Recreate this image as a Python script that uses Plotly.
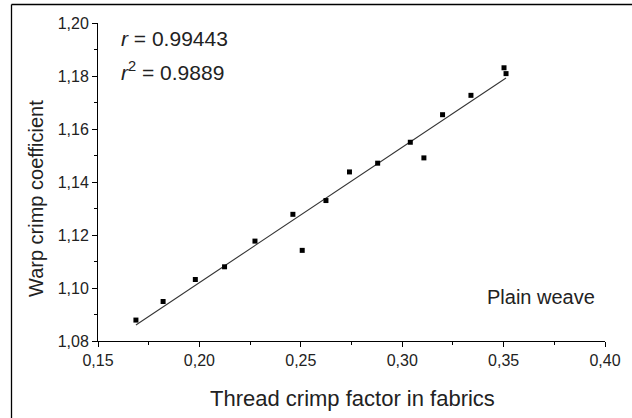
import numpy as np
import plotly.graph_objects as go

# Data
crimp_factor = [0.1687, 0.1821, 0.1980, 0.2124, 0.2274, 0.2461, 0.2507, 0.2624,
                0.2740, 0.2879, 0.3040, 0.3107, 0.3199, 0.3339, 0.3502, 0.3512]
warp_crimp = [1.0879, 1.0949, 1.1032, 1.1080, 1.1177, 1.1278, 1.1142, 1.1330,
              1.1438, 1.1471, 1.1550, 1.1491, 1.1654, 1.1727, 1.1831, 1.1809]
r_text = "0.99443"
r2_text = "0.9889"
x_title = "Thread crimp factor in fabrics"
y_title = "Warp crimp coefficient"
label_text = "Plain weave"

# Linear regression line
slope, intercept = np.polyfit(crimp_factor, warp_crimp, 1)
fit_x = [min(crimp_factor), max(crimp_factor)]
fit_y = [slope * v + intercept for v in fit_x]

W, H = 632, 418
L, R, T, B = 98, 27, 23, 77
pw, ph = W - L - R, H - T - B

def px(x):
    return (x - L) / pw

def py(y):
    return (H - B - y) / ph

FONT = "Liberation Sans, Arial, sans-serif"
TXT = "#222222"

fig = go.Figure()
fig.add_trace(go.Scatter(x=fit_x, y=fit_y, mode="lines",
                         line=dict(color="#333333", width=1.1),
                         hoverinfo="skip", showlegend=False))
fig.add_trace(go.Scatter(x=crimp_factor, y=warp_crimp, mode="markers",
                         marker=dict(symbol="square", size=5, color="black"),
                         showlegend=False))

axis_common = dict(showline=True, linecolor="black", linewidth=1,
                   showgrid=False, zeroline=False, ticks="outside",
                   tickcolor="black", ticklen=5, tickwidth=1,
                   tickfont=dict(family=FONT, size=16, color=TXT),
                   mirror=False)

fig.update_xaxes(range=[0.15, 0.40], dtick=0.05, tick0=0.15, tickformat=".2f",
                 minor=dict(dtick=0.025, ticks="outside", ticklen=3,
                            tickcolor="black", tickwidth=1),
                 **axis_common)
fig.update_yaxes(range=[1.08, 1.20], dtick=0.02, tick0=1.08, tickformat=".2f",
                 minor=dict(dtick=0.01, ticks="outside", ticklen=3,
                            tickcolor="black", tickwidth=1),
                 **axis_common)

annotations = [
    dict(text="<i>r</i> = " + r_text, x=px(119), y=py(38), xanchor="left",
         yanchor="middle", font=dict(size=21)),
    dict(text="<i>r</i><sup>2</sup> = " + r2_text, x=px(119), y=py(71),
         xanchor="left", yanchor="middle", font=dict(size=21)),
    dict(text=label_text, x=px(597), y=py(297), xanchor="right",
         yanchor="middle", font=dict(size=20)),
    dict(text=x_title, x=px(352), y=py(398), xanchor="center",
         yanchor="middle", font=dict(size=22)),
    dict(text=y_title, x=px(36), y=py(199), xanchor="center",
         yanchor="middle", textangle=-90, font=dict(size=20)),
]
for a in annotations:
    a.update(xref="paper", yref="paper", showarrow=False)
    a["font"].update(family=FONT, color=TXT)

# Outer frame (left and top edges visible in the picture)
fx, fy = px(11.5), py(4.5)
shapes = [
    dict(type="line", xref="paper", yref="paper", x0=fx, x1=fx, y0=py(H + 5), y1=fy,
         line=dict(color="black", width=1.3)),
    dict(type="line", xref="paper", yref="paper", x0=fx, x1=px(W + 5), y0=fy, y1=fy,
         line=dict(color="black", width=1.3)),
]

fig.update_layout(width=W, height=H, margin=dict(l=L, r=R, t=T, b=B, pad=0),
                  paper_bgcolor="white", plot_bgcolor="white",
                  separators=",.", annotations=annotations, shapes=shapes,
                  font=dict(family=FONT, color=TXT))

fig.write_html("out.html")
